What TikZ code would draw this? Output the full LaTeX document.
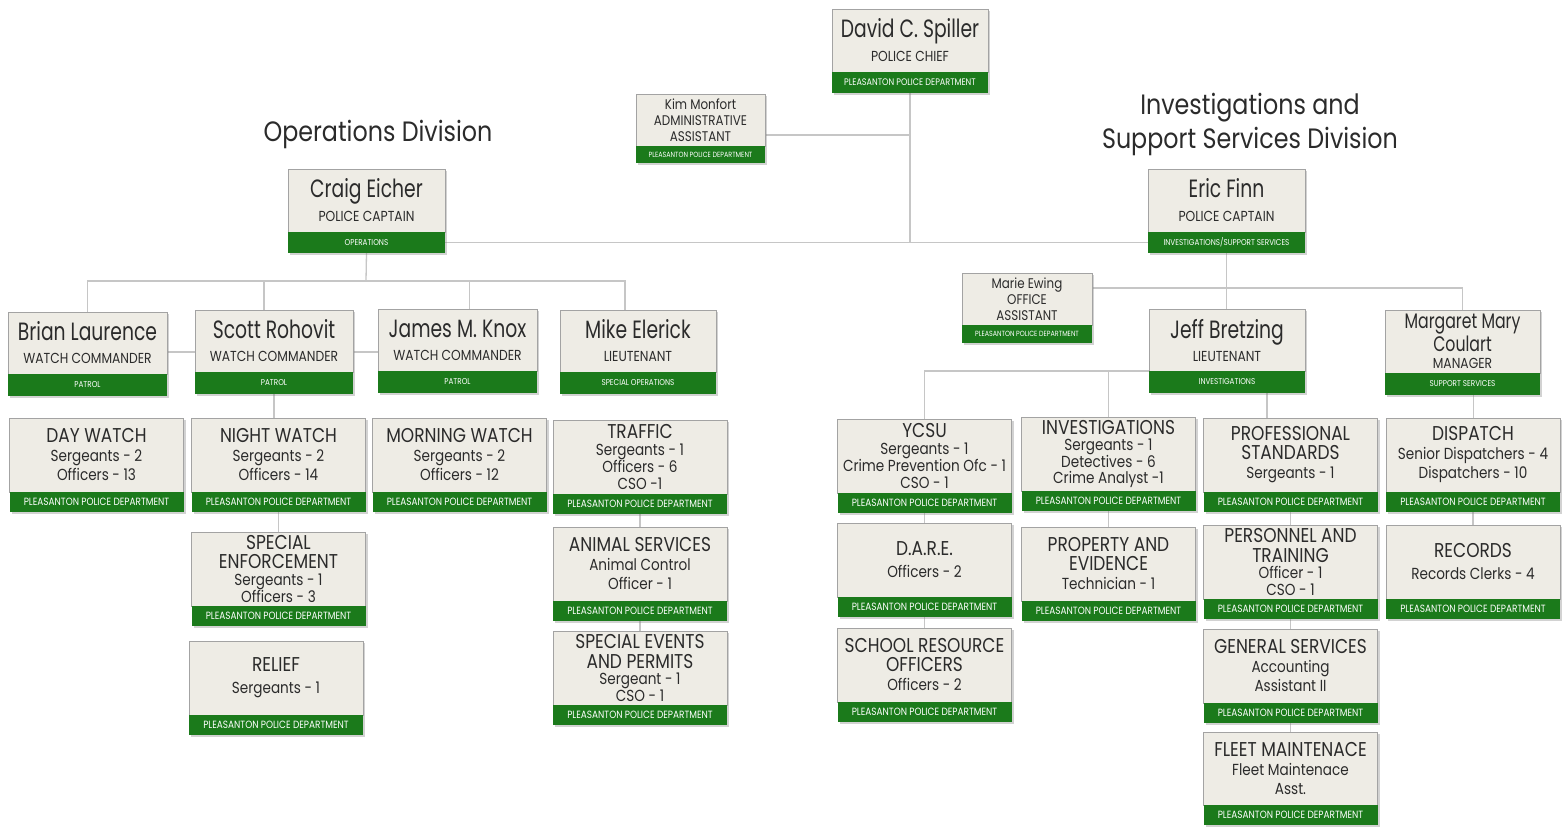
\documentclass[tikz,border=0pt]{standalone}
\usepackage{fontspec}
\setmainfont{Poppins}[FakeStretch=0.85]
\newfontfamily\namefont{Poppins}[FakeStretch=0.75]
\usetikzlibrary{shadows,backgrounds}

\definecolor{boxfill}{HTML}{EEECE5}
\definecolor{ppdgreen}{HTML}{1B7A1B}
\definecolor{inkgray}{HTML}{2B2B2B}
\definecolor{rimgray}{HTML}{A3A3A3}
\definecolor{wiregray}{HTML}{C6C6C6}

\newcommand{\namesize}{\namefont\fontsize{25}{26}\selectfont}
\newcommand{\midname}{\namefont\fontsize{21}{20}\selectfont}
\newcommand{\rolesize}{\fontsize{14.5}{17}\selectfont}
\newcommand{\headsize}{\fontsize{20}{22}\selectfont}
\newcommand{\bodysize}{\fontsize{16}{19}\selectfont}
\newcommand{\tightsize}{\fontsize{16}{16.5}\selectfont}
\newcommand{\titlesize}{\fontsize{28}{34}\selectfont}

\begin{document}
\begin{tikzpicture}[x=1pt,y=-1pt,
    orgunit/.style={draw=rimgray, line width=0.6pt, fill=boxfill, text=inkgray, align=center,
      anchor=north, inner sep=1pt, outer sep=0pt, minimum width=174pt, minimum height=74pt,
      font=\bodysize, drop shadow={shadow xshift=2pt,shadow yshift=-2pt,opacity=0.35}},
    tightunit/.style={orgunit, font=\tightsize},
    headunit/.style={orgunit, minimum width=157pt, minimum height=62pt, font=\rolesize},
    assistunit/.style={orgunit, minimum width=130pt, minimum height=52pt,
      font=\fontsize{14}{16}\selectfont},
    ppdbar/.style={fill=ppdgreen, text=white, anchor=north, inner sep=0pt, outer sep=0pt,
      minimum width=174pt, minimum height=20pt, font=\fontsize{10.5}{11}\selectfont,
      drop shadow={shadow xshift=2pt,shadow yshift=-2pt,opacity=0.35}},
    headbar/.style={ppdbar, minimum width=157pt, minimum height=22pt, font=\fontsize{8.5}{9}\selectfont},
    assistbar/.style={ppdbar, minimum width=130pt, minimum height=17pt, font=\fontsize{7.5}{8}\selectfont},
    divtitle/.style={text=inkgray, align=center, font=\titlesize},
    wire/.style={draw=wiregray, line width=1.3pt}]
    \useasboundingbox (0,0) rectangle (1567,827);

    % titles
    \node[divtitle] (opstitle) at (378,134) {Operations Division};
    \node[divtitle] (invtitle) at (1250,124) {Investigations and\\Support Services Division};

    % chief and staff
    \node[headunit, minimum width=156pt, minimum height=63pt] (chief) at (910,9) {{\namesize David C. Spiller}\\[7pt]POLICE CHIEF};
    \node[headbar, minimum width=156pt, minimum height=21pt, font=\fontsize{9.5}{10}\selectfont] (chief-bar) at (chief.south) {PLEASANTON POLICE DEPARTMENT};
    \node[assistunit, minimum width=129pt] (kim) at (700.5,94) {Kim Monfort\\ADMINISTRATIVE\\ASSISTANT};
    \node[assistbar, minimum width=129pt] (kim-bar) at (kim.south) {PLEASANTON POLICE DEPARTMENT};

    % captains
    \node[headunit, minimum height=63pt] (craig) at (366.5,169) {{\namesize Craig Eicher}\\[7pt]POLICE CAPTAIN};
    \node[headbar, minimum height=21pt] (craig-bar) at (craig.south) {OPERATIONS};
    \node[headunit, minimum height=63pt] (eric) at (1226.5,169) {{\namesize Eric Finn}\\[7pt]POLICE CAPTAIN};
    \node[headbar, minimum height=21pt] (eric-bar) at (eric.south) {INVESTIGATIONS/SUPPORT SERVICES};

    % operations commanders
    \node[headunit, minimum width=159pt] (brian) at (87.5,312) {{\namesize Brian Laurence}\\[6pt]WATCH COMMANDER};
    \node[headbar, minimum width=159pt] (brian-bar) at (brian.south) {PATROL};
    \node[headunit, minimum width=158pt] (scott) at (274,310) {{\namesize Scott Rohovit}\\[6pt]WATCH COMMANDER};
    \node[headbar, minimum width=158pt] (scott-bar) at (scott.south) {PATROL};
    \node[headunit, minimum width=159pt] (james) at (457.5,309) {{\namesize James M. Knox}\\[6pt]WATCH COMMANDER};
    \node[headbar, minimum width=159pt] (james-bar) at (james.south) {PATROL};
    \node[headunit, minimum width=156pt] (mike) at (638,310) {{\namesize Mike Elerick}\\[6pt]LIEUTENANT};
    \node[headbar, minimum width=156pt] (mike-bar) at (mike.south) {SPECIAL OPERATIONS};

    % investigations and support heads
    \node[assistunit] (marie) at (1027,273) {Marie Ewing\\OFFICE\\ASSISTANT};
    \node[assistbar, minimum height=18pt] (marie-bar) at (marie.south) {PLEASANTON POLICE DEPARTMENT};
    \node[headunit, minimum width=156pt] (jeff) at (1227,309) {{\namesize Jeff Bretzing}\\[6pt]LIEUTENANT};
    \node[headbar, minimum width=156pt] (jeff-bar) at (jeff.south) {INVESTIGATIONS};
    \node[headunit, minimum width=155pt, minimum height=63pt] (margaret) at (1462.5,310) {{\midname Margaret Mary}\\[1pt]{\midname Coulart}\\MANAGER};
    \node[headbar, minimum width=155pt] (margaret-bar) at (margaret.south) {SUPPORT SERVICES};

    % operations units
    \node[orgunit] (day) at (96.5,418) {{\headsize DAY WATCH}\\Sergeants - 2\\Officers - 13};
    \node[ppdbar] (day-bar) at (day.south) {PLEASANTON POLICE DEPARTMENT};
    \node[orgunit] (night) at (278.5,418) {{\headsize NIGHT WATCH}\\Sergeants - 2\\Officers - 14};
    \node[ppdbar] (night-bar) at (night.south) {PLEASANTON POLICE DEPARTMENT};
    \node[orgunit] (morning) at (459.5,418) {{\headsize MORNING WATCH}\\Sergeants - 2\\Officers - 12};
    \node[ppdbar] (morning-bar) at (morning.south) {PLEASANTON POLICE DEPARTMENT};
    \node[tightunit] (traffic) at (640,420) {{\headsize TRAFFIC}\\Sergeants - 1\\Officers - 6\\CSO -1};
    \node[ppdbar] (traffic-bar) at (traffic.south) {PLEASANTON POLICE DEPARTMENT};
    \node[tightunit] (specenf) at (278.5,532) {{\headsize SPECIAL}\\[3pt]{\headsize ENFORCEMENT}\\Sergeants - 1\\Officers - 3};
    \node[ppdbar] (specenf-bar) at (specenf.south) {PLEASANTON POLICE DEPARTMENT};
    \node[orgunit] (relief) at (276,641) {{\headsize RELIEF}\\[3pt]Sergeants - 1};
    \node[ppdbar] (relief-bar) at (relief.south) {PLEASANTON POLICE DEPARTMENT};
    \node[orgunit] (animal) at (640,527) {{\headsize ANIMAL SERVICES}\\Animal Control\\Officer - 1};
    \node[ppdbar] (animal-bar) at (animal.south) {PLEASANTON POLICE DEPARTMENT};
    \node[tightunit] (events) at (640,631) {{\headsize SPECIAL EVENTS}\\[3pt]{\headsize AND PERMITS}\\Sergeant - 1\\CSO - 1};
    \node[ppdbar] (events-bar) at (events.south) {PLEASANTON POLICE DEPARTMENT};

    % investigations and support units
    \node[tightunit] (ycsu) at (924.5,419) {{\headsize YCSU}\\Sergeants - 1\\Crime Prevention Ofc - 1\\CSO - 1};
    \node[ppdbar] (ycsu-bar) at (ycsu.south) {PLEASANTON POLICE DEPARTMENT};
    \node[tightunit] (invest) at (1108.5,417) {{\headsize INVESTIGATIONS}\\Sergeants - 1\\Detectives - 6\\Crime Analyst -1};
    \node[ppdbar] (invest-bar) at (invest.south) {PLEASANTON POLICE DEPARTMENT};
    \node[orgunit] (prof) at (1290.5,418) {{\headsize PROFESSIONAL}\\{\headsize STANDARDS}\\Sergeants - 1};
    \node[ppdbar] (prof-bar) at (prof.south) {PLEASANTON POLICE DEPARTMENT};
    \node[orgunit] (dispatch) at (1473,418) {{\headsize DISPATCH}\\Senior Dispatchers - 4\\Dispatchers - 10};
    \node[ppdbar] (dispatch-bar) at (dispatch.south) {PLEASANTON POLICE DEPARTMENT};
    \node[orgunit] (dare) at (924.5,523) {{\headsize D.A.R.E.}\\[3pt]Officers - 2};
    \node[ppdbar] (dare-bar) at (dare.south) {PLEASANTON POLICE DEPARTMENT};
    \node[orgunit] (property) at (1108.5,527) {{\headsize PROPERTY AND}\\{\headsize EVIDENCE}\\Technician - 1};
    \node[ppdbar] (property-bar) at (property.south) {PLEASANTON POLICE DEPARTMENT};
    \node[tightunit] (personnel) at (1290.5,525) {{\headsize PERSONNEL AND}\\[3pt]{\headsize TRAINING}\\Officer - 1\\CSO - 1};
    \node[ppdbar] (personnel-bar) at (personnel.south) {PLEASANTON POLICE DEPARTMENT};
    \node[orgunit] (records) at (1473,525) {{\headsize RECORDS}\\[3pt]Records Clerks - 4};
    \node[ppdbar] (records-bar) at (records.south) {PLEASANTON POLICE DEPARTMENT};
    \node[orgunit] (school) at (924.5,628) {{\headsize SCHOOL RESOURCE}\\{\headsize OFFICERS}\\Officers - 2};
    \node[ppdbar] (school-bar) at (school.south) {PLEASANTON POLICE DEPARTMENT};
    \node[orgunit] (general) at (1290.5,629) {{\headsize GENERAL SERVICES}\\Accounting\\Assistant II};
    \node[ppdbar] (general-bar) at (general.south) {PLEASANTON POLICE DEPARTMENT};
    \node[orgunit, minimum height=73pt] (fleet) at (1290.5,732) {{\headsize FLEET MAINTENACE}\\Fleet Maintenace\\Asst.};
    \node[ppdbar] (fleet-bar) at (fleet.south) {PLEASANTON POLICE DEPARTMENT};

    % connectors
    \begin{scope}[on background layer]
    \fill[white] (0,0) rectangle (1567,827);
    \draw[wire] (chief-bar.south) -- (chief-bar.south |- craig-bar.east);
    \draw[wire] (craig-bar.east) -- (eric-bar.west);
    \draw[wire] ([yshift=-15pt]kim.east) -- ([yshift=-15pt]kim.east -| chief-bar.south);
    \coordinate (opsbus) at (366,281);
    \draw[wire] (craig-bar.south) -- (opsbus);
    \draw[wire] (brian.north) |- ([xshift=-13pt]mike.north |- opsbus) -- ([xshift=-13pt]mike.north);
    \draw[wire] ([xshift=-10pt]scott.north) -- ([xshift=-10pt]scott.north |- opsbus);
    \draw[wire] ([xshift=12pt]james.north) -- ([xshift=12pt]james.north |- opsbus);
    \draw[wire] ([yshift=-9pt]brian.east) -- ([yshift=-9pt]brian.east -| scott.west);
    \draw[wire] ([yshift=-11pt]scott.east) -- ([yshift=-11pt]scott.east -| james.west);
    \draw[wire] (scott-bar.south) -- (scott-bar.south |- night.north);
    \draw[wire] (night-bar.south) -- (night-bar.south |- specenf.north);
    \draw[wire] (traffic-bar.south) -- (animal.north);
    \draw[wire] (animal-bar.south) -- (events.north);
    \draw[wire] (eric-bar.south) -- (eric-bar.south |- jeff.north);
    \draw[wire] ([yshift=11pt]marie.east) -| (margaret.north);
    \draw[wire] (jeff-bar.north west) -| (ycsu.north);
    \draw[wire] (invest.north) -- (invest.north |- jeff-bar.north west);
    \draw[wire] ([xshift=40pt]jeff-bar.south) -- ([xshift=40pt]jeff-bar.south |- prof.north);
    \draw[wire] ([xshift=11pt]margaret-bar.south) -- ([xshift=11pt]margaret-bar.south |- dispatch.north);
    \draw[wire] (ycsu-bar.south) -- (dare.north);
    \draw[wire] (dare-bar.south) -- (school.north);
    \draw[wire] (invest-bar.south) -- (property.north);
    \draw[wire] (prof-bar.south) -- (personnel.north);
    \draw[wire] (personnel-bar.south) -- (general.north);
    \draw[wire] (general-bar.south) -- (fleet.north);
    \draw[wire] (dispatch-bar.south) -- (records.north);
    \end{scope}
\end{tikzpicture}
\end{document}
